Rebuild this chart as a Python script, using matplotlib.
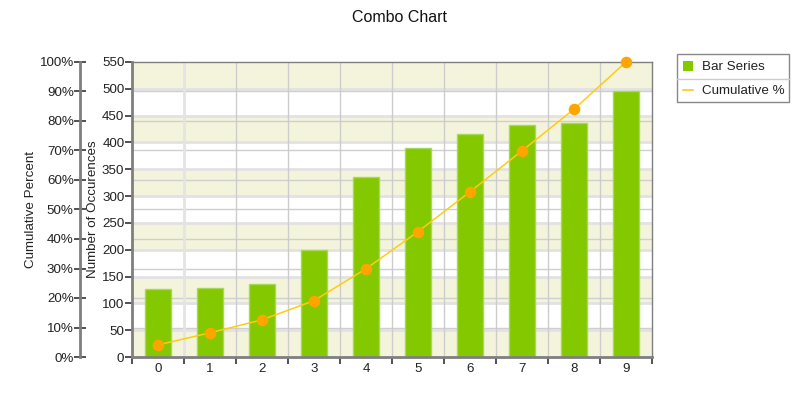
import matplotlib
matplotlib.use("Agg")
import matplotlib.pyplot as plt
from matplotlib.patches import Rectangle
from matplotlib.lines import Line2D
import numpy as np

plt.rcParams['font.family'] = ['Liberation Sans', 'DejaVu Sans']

categories = ['0', '1', '2', '3', '4', '5', '6', '7', '8', '9']
bar_values = [127, 128, 137, 200, 336, 390, 416, 432, 437, 496]
cumulative_pct = [4.1, 8.2, 12.6, 19.1, 29.9, 42.5, 56.0, 69.9, 84.0, 100.0]
count_ticks = [0, 50, 100, 150, 200, 250, 300, 350, 400, 450, 500, 550]
pct_ticks = [0, 10, 20, 30, 40, 50, 60, 70, 80, 90, 100]
pct_labels = [f"{p}%" for p in pct_ticks]

COUNT_MAX = 550
BAR_COLOR = '#84c800'
BAR_EDGE = '#a6d95a'
LINE_COLOR = '#ffcc11'
MARKER_COLOR = '#ffa500'
BAND_COLOR = '#f4f4dc'
AXIS_COLOR = '#7f7f7f'
FS = 9.6

fig = plt.figure(figsize=(8, 4), dpi=100)
ax = fig.add_axes([132/800, 1-357/400, 520/800, 295/400])
ax.set_xlim(-0.5, len(categories) - 0.5)
ax.set_ylim(0, COUNT_MAX)

# alternating bands
for i in range(len(count_ticks) - 1):
    if i % 2 == 0:
        ax.axhspan(count_ticks[i], count_ticks[i+1], color=BAND_COLOR, zorder=0, lw=0)

# grid lines
for t in count_ticks[1:-1]:
    ax.axhline(t, color='#e2e2e2', lw=2.0, zorder=0.5)
for p in pct_ticks[1:-1]:
    ax.axhline(p / 100 * COUNT_MAX, color='#cfcfcf', lw=1.0, zorder=0.6)
xb = np.arange(len(categories) - 1) + 0.5
for k, xv in enumerate(xb):
    ax.axvline(xv, color='#e4e4e4' if k == 0 else '#cccccc', lw=2.0 if k == 0 else 1.0, zorder=0.6)

x = np.arange(len(categories))
ax.bar(x, bar_values, width=0.5, color=BAR_COLOR, edgecolor=BAR_EDGE, linewidth=1.0, zorder=2)

# x axis ticks at boundaries
ax.set_xticks(np.arange(-0.5, len(categories), 1.0), minor=False)
ax.set_xticklabels([])
ax.set_xticks(x, minor=True)
ax.set_xticklabels(categories, minor=True)
ax.tick_params(axis='x', which='major', direction='out', length=5, width=1.2, color='#333333')
ax.tick_params(axis='x', which='minor', length=0, labelsize=FS, pad=4, labelcolor='#222222')

ax.set_yticks(count_ticks)
ax.set_yticklabels([str(t) for t in count_ticks])
ax.tick_params(axis='y', direction='out', length=5, width=1.2, color='#333333', labelsize=FS, pad=0.5, labelcolor='#222222')
ax.set_ylabel('Number of Occurences', fontsize=FS, color='#222222', va='center')
ax.yaxis.set_label_coords((93 - 132) / 520, 0.5)

for s in ['left', 'bottom']:
    ax.spines[s].set_color(AXIS_COLOR)
    ax.spines[s].set_linewidth(2)
for s in ['top', 'right']:
    ax.spines[s].set_color(AXIS_COLOR)
    ax.spines[s].set_linewidth(1)

# percent axis
ax2 = ax.twinx()
ax2.set_ylim(0, 100)
ax2.yaxis.tick_left()
ax2.yaxis.set_label_position('left')
ax2.spines['left'].set_position(('axes', -52/520))
ax2.spines['left'].set_visible(True)
ax2.spines['left'].set_color(AXIS_COLOR)
ax2.spines['left'].set_linewidth(2)
for s in ['top', 'right', 'bottom']:
    ax2.spines[s].set_visible(False)
ax2.set_yticks(pct_ticks)
ax2.set_yticklabels(pct_labels)
ax2.tick_params(axis='y', direction='inout', length=8, width=1.2, color='#333333', labelsize=FS, pad=0.5, labelcolor='#222222')
ax2.set_ylabel('Cumulative Percent', fontsize=FS, color='#222222', va='center')
ax2.yaxis.set_label_coords((31 - 132) / 520, 0.5)

ax2.plot(x, cumulative_pct, color=LINE_COLOR, lw=1.1, zorder=3, clip_on=False)
ax2.plot(x, cumulative_pct, 'o', color=MARKER_COLOR, ms=7.3, zorder=4, clip_on=False)

fig.text(0.5, 1-18/400, 'Combo Chart', ha='center', va='center', fontsize=11.5, color='#111111')

# legend
W, H = 800, 400
def fx(px): return px / W
def fy(py): return 1 - py / H
fig.patches.append(Rectangle((fx(677), fy(102)), fx(789) - fx(677), fy(54) - fy(102),
                             transform=fig.transFigure, facecolor='white', edgecolor='#888888', lw=1))
fig.lines.append(Line2D([fx(677), fx(789)], [fy(79), fy(79)], transform=fig.transFigure, color='#cccccc', lw=1))
fig.patches.append(Rectangle((fx(683), fy(71)), fx(10), fy(0) - fy(10), transform=fig.transFigure,
                             facecolor=BAR_COLOR, edgecolor='none'))
fig.text(fx(702), fy(66.5), 'Bar Series', ha='left', va='center', fontsize=FS, color='#222222')
fig.lines.append(Line2D([fx(683), fx(693)], [fy(90), fy(90)], transform=fig.transFigure, color=LINE_COLOR, lw=1.2))
fig.text(fx(702), fy(91), 'Cumulative %', ha='left', va='center', fontsize=FS, color='#222222')

fig.savefig('out.png', dpi=100)
